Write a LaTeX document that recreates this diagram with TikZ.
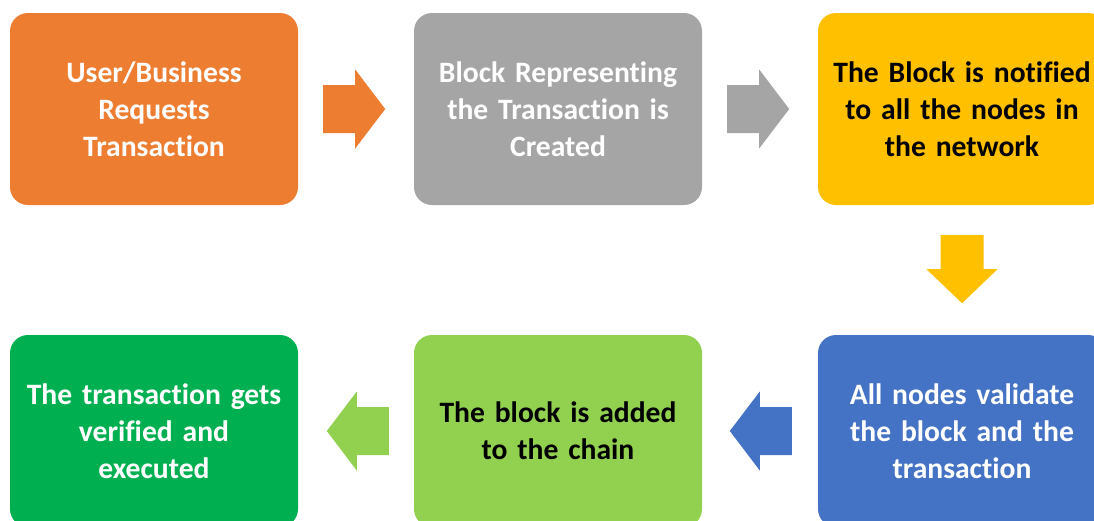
\documentclass[tikz,border=0pt]{standalone}
\usepackage{fontspec}
\setmainfont{Carlito}[Ligatures=NoCommon]
\usetikzlibrary{calc}

\definecolor{cOrange}{HTML}{ED7D31}
\definecolor{cGray}{HTML}{A5A5A5}
\definecolor{cYellow}{HTML}{FFC000}
\definecolor{cBlue}{HTML}{4472C4}
\definecolor{cLime}{HTML}{92D050}
\definecolor{cGreen}{HTML}{00B050}

\tikzset{
  stepbox/.style={rectangle, rounded corners=18pt, minimum width=288pt,
    minimum height=192pt, inner sep=0pt, text width=280pt, align=center,
    font=\fontsize{29.6}{37}\selectfont\bfseries},
  % block arrow: length / head length / shaft half-width / head half-width
  pics/blockarrow/.style args={#1/#2/#3/#4}{code={
    \fill (0,-#3) -- ({#1-#2},-#3) -- ({#1-#2},-#4) -- (#1,0)
      -- ({#1-#2},#4) -- ({#1-#2},#3) -- (0,#3) -- cycle;
  }}
}

\begin{document}
\begin{tikzpicture}[x=1pt, y=-1pt]
  \useasboundingbox (0,0) rectangle (1094,520);
  \clip (0,0) rectangle (1094,520);

  % process steps
  \node[stepbox, fill=cOrange, text=white] (b1) at (154,109)
    {User/Business\\Requests\\Transaction};
  \node[stepbox, fill=cGray, text=white] (b2) at (558,109)
    {Block Representing\\the Transaction is\\Created};
  \node[stepbox, fill=cYellow, text=black] (b3) at (962,109)
    {The Block is notified\\to all the nodes in\\the network};
  \node[stepbox, fill=cBlue, text=white] (b6) at (962,431)
    {All nodes validate\\the block and the\\transaction};
  \node[stepbox, fill=cLime, text=black] (b5) at (558,431)
    {The block is added\\to the chain};
  \node[stepbox, fill=cGreen, text=white] (b4) at (154,431)
    {The transaction gets\\verified and\\executed};

  % block arrows between the steps
  \path[fill=cOrange] ($(b1.east)+(25,0)$) pic {blockarrow=62/30/24/39.5};
  \path[fill=cGray]   ($(b2.east)+(25,0)$) pic {blockarrow=62/30/24/39.5};
  \path[fill=cYellow] ($(b3.south)+(0,30)$) pic[rotate=-90] {blockarrow=68/34/21.5/35.5};
  \path[fill=cBlue]   ($(b6.west)+(-26,0)$) pic[rotate=180] {blockarrow=62/30/24/39.5};
  \path[fill=cLime]   ($(b5.west)+(-25,0)$) pic[rotate=180] {blockarrow=62/30/24/39.5};
\end{tikzpicture}
\end{document}
